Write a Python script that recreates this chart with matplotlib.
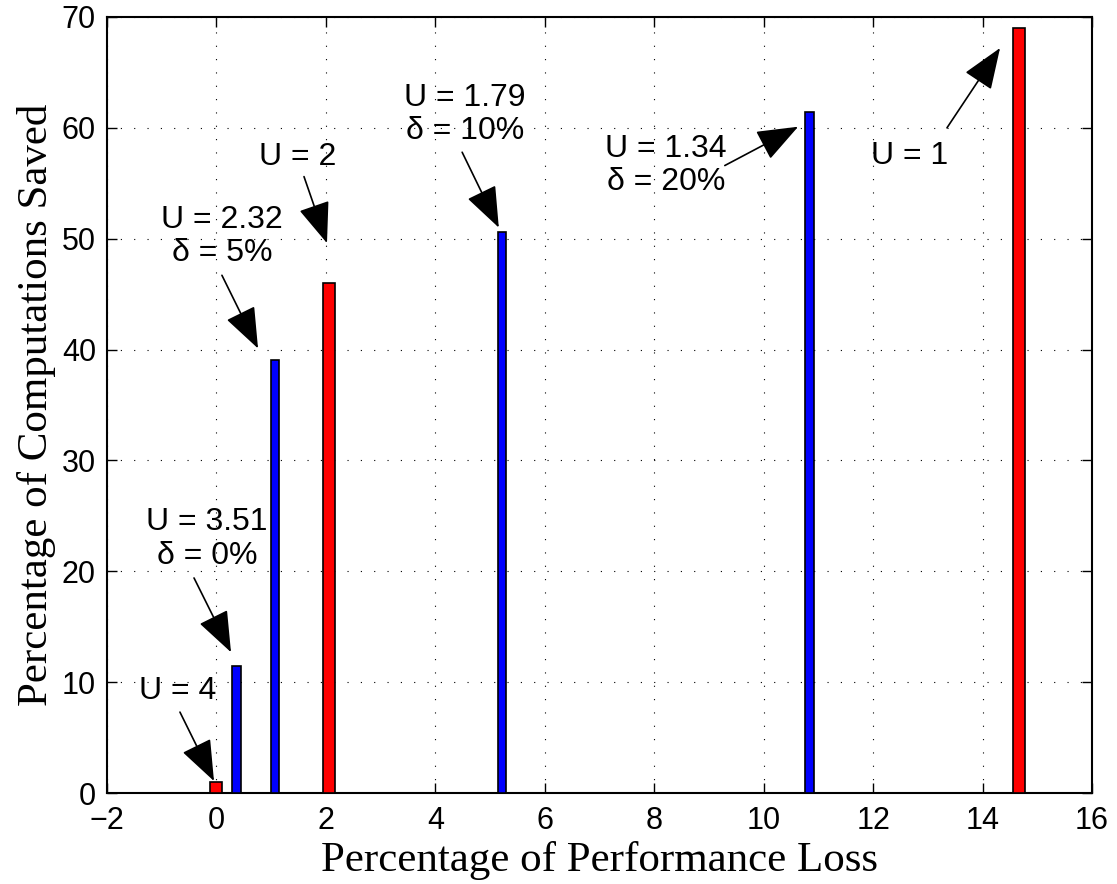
import matplotlib
matplotlib.use("Agg")
import matplotlib.pyplot as plt

# ---- data ----
red_loss = [0.0, 2.05, 14.67]          # U integer settings
red_saved = [1.0, 46.0, 69.0]
blue_loss = [0.37, 1.07, 5.22, 10.84]  # delta settings
blue_saved = [11.5, 39.1, 50.6, 61.4]

labels = ["U = 4", "U = 3.51\nδ = 0%", "U = 2.32\nδ = 5%", "U = 2",
          "U = 1.79\nδ = 10%", "U = 1.34\nδ = 20%", "U = 1"]
label_pos = [(-0.70, 9.2), (-0.17, 22.9), (0.10, 50.2), (1.49, 57.4),
             (4.54, 61.2), (8.22, 56.6), (12.67, 57.5)]
arrow_tail = [(-0.667, 7.3), (-0.41, 19.4), (0.10, 46.7), (1.60, 55.6),
              (4.49, 57.8), (9.29, 56.6), (13.35, 60.0)]
arrow_head = [(-0.045, 1.08), (0.266, 12.7), (0.76, 40.1), (2.02, 49.6),
              (5.16, 51.0), (10.63, 60.1), (14.32, 67.2)]

xticks = list(range(-2, 17, 2))
yticks = list(range(0, 71, 10))

sans = ["Liberation Sans", "DejaVu Sans"]
serif = ["Liberation Serif", "DejaVu Serif"]

fig = plt.figure(figsize=(11.17, 8.84), dpi=100)
ax = fig.add_axes([0.0958, 0.1029, 0.8818, 0.8779])

ax.bar(red_loss, red_saved, width=0.22, color="#ff0000", edgecolor="black",
       linewidth=1.2, zorder=3)
ax.bar(blue_loss, blue_saved, width=0.16, color="#0000ff", edgecolor="black",
       linewidth=1.2, zorder=3)

ax.set_xlim(-2, 16)
ax.set_ylim(0, 70)
ax.set_xticks(xticks)
ax.set_yticks(yticks)
ax.set_xticklabels([("\u2212" + str(-t)) if t < 0 else str(t) for t in xticks],
                   fontfamily=sans, fontsize=22)
ax.set_yticklabels([str(t) for t in yticks], fontfamily=sans, fontsize=22)

ax.tick_params(direction="in", length=7, width=1, top=True, right=True)
ax.tick_params(axis="x", pad=9)
ax.tick_params(axis="y", pad=8)
ax.grid(True, color="black", linestyle=(0, (1, 11)), linewidth=0.8, zorder=0)
ax.set_axisbelow(True)
for s in ax.spines.values():
    s.set_linewidth(1.5)

ax.set_xlabel("Percentage of Performance Loss", fontfamily=serif, fontsize=31,
              labelpad=4)
ax.set_ylabel("Percentage of Computations Saved", fontfamily=serif, fontsize=31,
              labelpad=4)

for txt, pos, tail, head in zip(labels, label_pos, arrow_tail, arrow_head):
    ax.text(pos[0], pos[1], txt, ha="center", va="center",
            multialignment="center", fontfamily=sans, fontsize=23,
            linespacing=1.15, zorder=5)
    ax.annotate("", xy=head, xytext=tail,
                arrowprops=dict(arrowstyle="-|>,head_length=1.3,head_width=0.5",
                                color="black", lw=1.2, shrinkA=0, shrinkB=0,
                                mutation_scale=20),
                zorder=5)

fig.savefig("out.png", dpi=100)
